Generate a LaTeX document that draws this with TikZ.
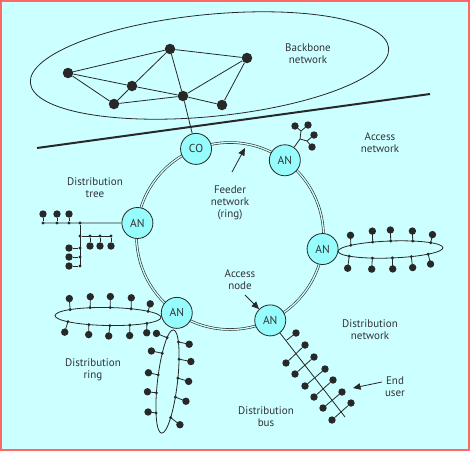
\documentclass[tikz,border=0pt]{standalone}
\usepackage{fontspec}
\setmainfont{PT Sans}
\usetikzlibrary{arrows.meta}
\definecolor{bg}{RGB}{204,255,255}
\definecolor{hubfill}{RGB}{150,252,252}
\definecolor{ink}{RGB}{40,40,40}
\definecolor{txt}{RGB}{50,50,55}
\definecolor{frame}{RGB}{255,102,102}
\newcommand\lbl{\fontsize{11}{12}\selectfont}
\newcommand\rtap[3]{%
  \path ({\ringRX*cos(#1)},{\ringRY*sin(#1)}) coordinate (j) ++(#2,#3) coordinate (d);
  \draw[wire] (j) -- (d);
  \node[jdot] at (j) {};
  \node[udot] at (d) {};
}
\begin{document}
\begin{tikzpicture}[x=1pt,y=-1pt,
  wire/.style={draw=ink, line width=0.8pt},
  bbdot/.style={circle, fill=ink, inner sep=0pt, minimum size=10.5pt},
  udot/.style={circle, fill=ink, inner sep=0pt, minimum size=7.4pt},
  jdot/.style={circle, fill=ink, inner sep=0pt, minimum size=3.2pt},
  hub/.style={circle, draw=ink, line width=0.8pt, fill=hubfill, minimum size=31pt, inner sep=0pt, font=\fontsize{11.5}{12}\selectfont, text=txt},
  lab/.style={align=center, text=txt, font=\lbl, inner sep=0pt},
  feeder/.style={draw=ink, line width=0.6pt, double=bg, double distance=1.3pt},
  pointer/.style={draw=ink, line width=0.8pt, -{Triangle[length=7.5pt,width=6.5pt]}}]
\useasboundingbox (0,0) rectangle (470,451);
\fill[bg] (0,0) rectangle (470,451);
\draw[frame, line width=2pt] (1,1) rectangle (469,450);

% backbone
\draw[wire, rotate around={5.6:(209.5,65.5)}] (209.5,65.5) ellipse [x radius=180, y radius=51];
\node[bbdot] (b1) at (68,73) {};
\node[bbdot] (b2) at (170,49) {};
\node[bbdot] (b3) at (247,58) {};
\node[bbdot] (b4) at (132,86) {};
\node[bbdot] (b5) at (183,96) {};
\node[bbdot] (b6) at (114,104) {};
\node[bbdot] (b7) at (222,105) {};
\draw[wire] (b1)--(b2) (b1)--(b4) (b1)--(b6) (b2)--(b4) (b2)--(b3) (b2)--(b5)
  (b3)--(b5) (b3)--(b7) (b4)--(b5) (b4)--(b6) (b6)--(b5) (b5)--(b7);
\node[lab] (backbone) at (308,54) {Backbone\\network};

% divider
\coordinate (divL) at (37,148);
\coordinate (divR) at (430,94);
\draw[ink, line width=2pt] (divL) -- (divR);

% feeder ring
\coordinate (rc) at (230,236);
\draw[feeder] (rc) circle (93.5);
\node[hub] (co) at ([shift={(-111.3:93.5)}]rc) {CO};
\node[hub] (an1) at ([shift={(-54.1:93.5)}]rc) {AN};
\node[hub] (an3) at ([shift={(8:93.5)}]rc) {AN};
\node[hub] (an4) at ([shift={(64.5:93.5)}]rc) {AN};
\node[hub] (an5) at ([shift={(124.7:93.5)}]rc) {AN};
\node[hub] (an2) at ([shift={(188:93.5)}]rc) {AN};
\draw[wire] (b5) -- (co);

% labels
\node[lab] (access) at (380,143) {Access\\network};
\node[lab] (dtree) at (95,188) {Distribution\\tree};
\node[lab] (feed) at (230,203) {Feeder\\network\\(ring)};
\node[lab] (anode) at (240,280) {Access\\node};
\node[lab] (dnet) at (370,330) {Distribution\\network};
\node[lab] (euser) at (395,387) {End\\user};
\node[lab] (dbus) at (266,417) {Distribution\\bus};
\node[lab] (dring) at (93,370) {Distribution\\ring};

% pointers
\coordinate (fa) at (232,172);
\coordinate (fb) at (245,148);
\draw[pointer] (fa) -- (fb);
\coordinate (na) at (245,295);
\draw[pointer] (na) -- (an4);
\coordinate (ea) at (382,382);
\coordinate (eb) at (353,388);
\draw[pointer] (ea) -- (eb);

% AN1 small tree
\coordinate (s1) at (300,139);
\coordinate (s2) at (301,131);
\coordinate (s3) at (307,141);
\node[udot] (d1) at (295,126) {};
\node[udot] (d2) at (308,125) {};
\node[udot] (d3) at (314,135) {};
\node[udot] (d4) at (312,147) {};
\draw[wire] (an1) -- (s1) -- (s2) (d1) -- (s2) -- (d2) (s1) -- (s3) (d3) -- (s3) -- (d4);

% distribution tree at AN2
\coordinate (tl) at (43,223);
\draw[wire] (an2) -- (tl);
\foreach \x in {43,57,69} {
  \node[jdot] (tj\x) at (\x,223) {};
  \node[udot] (td\x) at (\x,214) {};
  \draw[wire] (tj\x) -- (td\x);
}
\node[jdot] (tv0) at (80,223) {};
\coordinate (tv1) at (80,266);
\draw[wire] (tv0) -- (tv1);
\node[jdot] (th0) at (80,236) {};
\coordinate (th1) at (111,236);
\draw[wire] (th0) -- (th1);
\foreach \x in {90,100,111} {
  \node[jdot] (hj\x) at (\x,236) {};
  \node[udot] (hd\x) at (\x,246) {};
  \draw[wire] (hj\x) -- (hd\x);
}
\foreach \y in {248,257,266} {
  \node[jdot] (vj\y) at (80,\y) {};
  \node[udot] (vd\y) at (69,\y) {};
  \draw[wire] (vj\y) -- (vd\y);
}

% distribution ring at AN3
\begin{scope}[shift={(390.5,249.5)}, rotate=2]
  \def\ringRX{52.5}\def\ringRY{8.5}
  \draw[wire] (0,0) ellipse [x radius=52.5, y radius=8.5];
  \rtap{-138.8}{0}{-10}
  \rtap{-109.5}{0}{-11}
  \rtap{-89.4}{0}{-11}
  \rtap{-64.6}{0}{-10}
  \rtap{-39.6}{2}{-8}
  \rtap{142.2}{-2}{12}
  \rtap{110.6}{-1}{11}
  \rtap{88.3}{0}{11}
  \rtap{67}{1}{11}
  \rtap{44.4}{2}{10}
\end{scope}

% distribution ring at AN5, horizontal
\begin{scope}[shift={(108,316.5)}, rotate=-1]
  \def\ringRX{53}\def\ringRY{9}
  \draw[wire] (0,0) ellipse [x radius=53, y radius=9];
  \rtap{-135.8}{-1}{-11}
  \rtap{-109.9}{0}{-11}
  \rtap{-87.8}{0}{-11}
  \rtap{-64.3}{0}{-11}
  \rtap{-41}{2}{-7.5}
  \rtap{139}{-3}{10.5}
  \rtap{111}{0}{10}
  \rtap{87.8}{-1}{10.5}
  \rtap{65.5}{0}{10.5}
  \rtap{42.6}{0}{9.5}
\end{scope}

% distribution ring at AN5, vertical
\begin{scope}[shift={(167.5,381.5)}, rotate=-6.6]
  \def\ringRX{10}\def\ringRY{52}
  \draw[wire] (0,0) ellipse [x radius=10, y radius=52];
  \rtap{236.8}{-11}{-3}
  \rtap{211.9}{-11}{-1}
  \rtap{186.1}{-10}{-1}
  \rtap{166.1}{-9}{0}
  \rtap{141.3}{-8}{0}
  \rtap{-51.2}{11}{1}
  \rtap{-26.9}{12}{1}
  \rtap{-5}{11}{2}
  \rtap{16.2}{11}{3}
  \rtap{43.1}{10}{6}
\end{scope}

% distribution bus at AN4
\coordinate (busend) at (345,417);
\draw[wire] (an4) -- (busend);
\coordinate (bj0) at (286.5,340.2);
\node[udot] (bu0) at (296,333) {};
\draw[wire] (bj0) -- (bu0);
\foreach \lx/\ly/\ux/\uy [count=\k] in {286/363/305/345, 295/374/314/357, 305/386/325/369, 314/397/333/380, 323/408/342/392, 332/420/351/403} {
  \node[udot] (bl\k) at (\lx,\ly) {};
  \node[udot] (bu\k) at (\ux,\uy) {};
  \draw[wire] (bl\k) -- (bu\k);
}
\end{tikzpicture}
\end{document}
